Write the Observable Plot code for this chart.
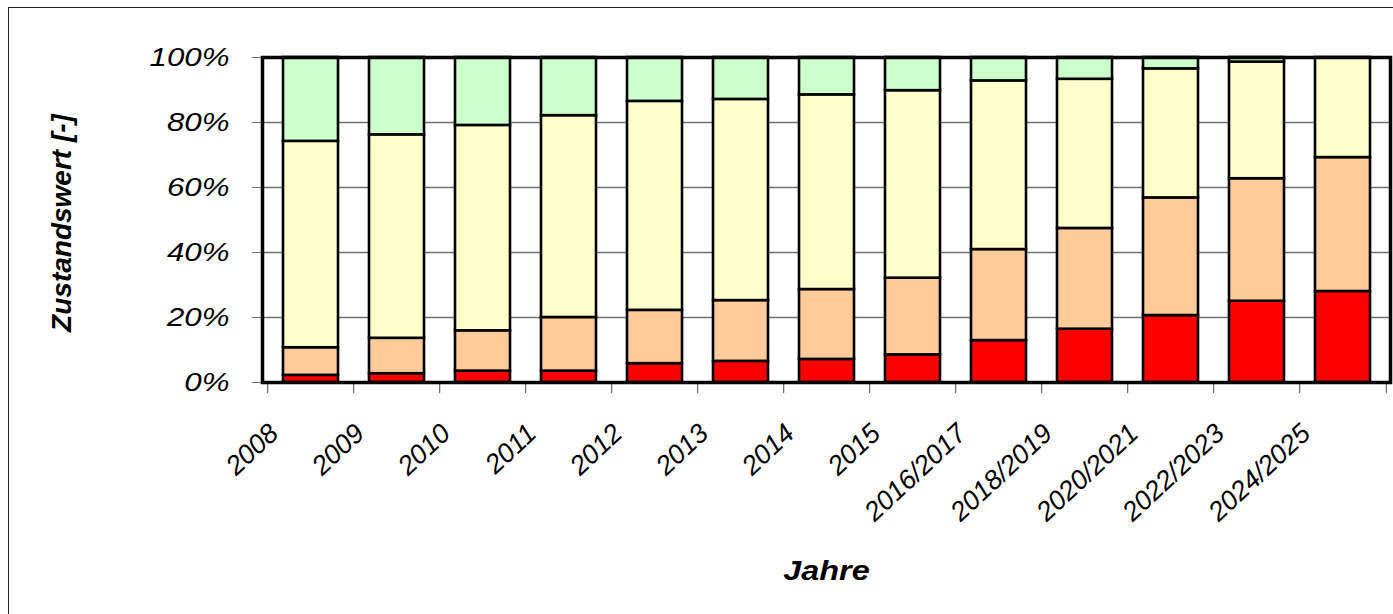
<!DOCTYPE html>
<html>
<head>
<meta charset="utf-8">
<script src="https://cdn.jsdelivr.net/npm/d3@7"></script>
<script src="https://cdn.jsdelivr.net/npm/@observablehq/plot@0.6"></script>
<style>
  html, body { margin: 0; padding: 0; background: #fff; width: 1393px; height: 614px; overflow: hidden; }
  #border { position: absolute; left: 8px; top: 7px; width: 1420px; height: 640px; border: 1.5px solid #222; box-sizing: border-box; }
  #chart { position: absolute; left: 0; top: 0; }
</style>
</head>
<body>
<div id="border"></div>
<div id="chart"></div>
<script>
const categories = ["2008","2009","2010","2011","2012","2013","2014","2015","2016/2017","2018/2019","2020/2021","2022/2023","2024/2025"];
const classes = ["Klasse 4","Klasse 3","Klasse 2","Klasse 1"];
const colors = ["#FF0000","#FFCC99","#FFFFCC","#CCFFCC"];
const klasse4 = [2.2, 2.7, 3.5, 3.5, 5.8, 6.5, 7.1, 8.5, 12.9, 16.4, 20.6, 25.0, 28.0];
const klasse3 = [8.5, 10.9, 12.4, 16.5, 16.4, 18.7, 21.5, 23.6, 28.0, 31.0, 36.2, 37.7, 41.2];
const klasse2 = [63.5, 62.6, 63.2, 62.1, 64.3, 61.9, 59.9, 57.7, 51.9, 45.9, 39.7, 35.9, 30.8];
const klasse1 = [25.8, 23.8, 20.9, 17.9, 13.5, 12.9, 11.5, 10.2, 7.2, 6.7, 3.5, 1.4, 0.0];
const yTicks = [0, 20, 40, 60, 80, 100];
const yGrid = [20, 40, 60, 80];
const xTitle = "Jahre";
const yTitle = "Zustandswert [-]";

const seriesValues = [klasse4, klasse3, klasse2, klasse1];
const data = [];
classes.forEach((c, s) => categories.forEach((cat, i) => data.push({cat, cls: c, value: seriesValues[s][i]})));

const W = 1393, H = 614, ML = 262, MR = 3, MT = 57, MB = 232;
const step = (W - ML - MR) / categories.length;
const lineShape = {draw(context, l) { context.moveTo(0, 0); context.lineTo(0, -l); }};
const font = "'Liberation Sans', Arial, sans-serif";

const chart = Plot.plot({
  width: W, height: H,
  marginLeft: ML, marginRight: MR, marginTop: MT, marginBottom: MB,
  style: {fontFamily: font, fontStyle: "italic", color: "#000", background: "transparent", overflow: "visible"},
  x: {domain: categories, paddingInner: 0.366, paddingOuter: 0.183, axis: null},
  y: {domain: [0, 100], axis: null, label: null},
  color: {domain: classes, range: colors},
  marks: [
    Plot.ruleY(yGrid, {stroke: "#6f6f6f", strokeWidth: 1.3}),
    Plot.barY(data, {x: "cat", y: "value", fill: "cls", stroke: "#000", strokeWidth: 2.6}),
    Plot.axisY({ticks: yTicks, label: null, tickFormat: d => d + "%", tickSize: 10, tickPadding: 23, stroke: "#6f6f6f", fontSize: 25, fill: "#000"}),
    Plot.vector(categories, {x: d => d, frameAnchor: "bottom", length: 10, rotate: 180, anchor: "start", dx: -step / 2, stroke: "#6f6f6f", strokeWidth: 1.3, shape: lineShape}),
    Plot.vector(categories.slice(-1), {x: d => d, frameAnchor: "bottom", length: 10, rotate: 180, anchor: "start", dx: step / 2, stroke: "#6f6f6f", strokeWidth: 1.3, shape: lineShape}),
    Plot.text(categories, {x: d => d, frameAnchor: "bottom", text: d => d, rotate: -43, textAnchor: "end", lineAnchor: "top", dx: -44, dy: 39, fontSize: 27, fill: "#000"}),
    Plot.frame({stroke: "#000", strokeWidth: 3.5}),
    Plot.text([xTitle], {frameAnchor: "bottom", text: d => d, fontSize: 27, fontWeight: "bold", lineAnchor: "bottom", dy: 197, fill: "#000", className: "xtitle"}),
    Plot.text([yTitle], {frameAnchor: "left", text: d => d, textAnchor: "middle", fontSize: 28, fontWeight: "bold", rotate: -90, dx: -200, dy: 3, fill: "#000", className: "ytitle"})
  ]
});

document.getElementById("chart").appendChild(chart);
const svg = d3.select(chart);
svg.selectAll('g[aria-label="y-axis tick label"] text').each(function() {
  this.setAttribute("transform", (this.getAttribute("transform") || "") + " scale(1.25,1)");
});
svg.selectAll('g.xtitle text').each(function() {
  this.setAttribute("transform", (this.getAttribute("transform") || "") + " scale(1.2,1)");
});
</script>
</body>
</html>
